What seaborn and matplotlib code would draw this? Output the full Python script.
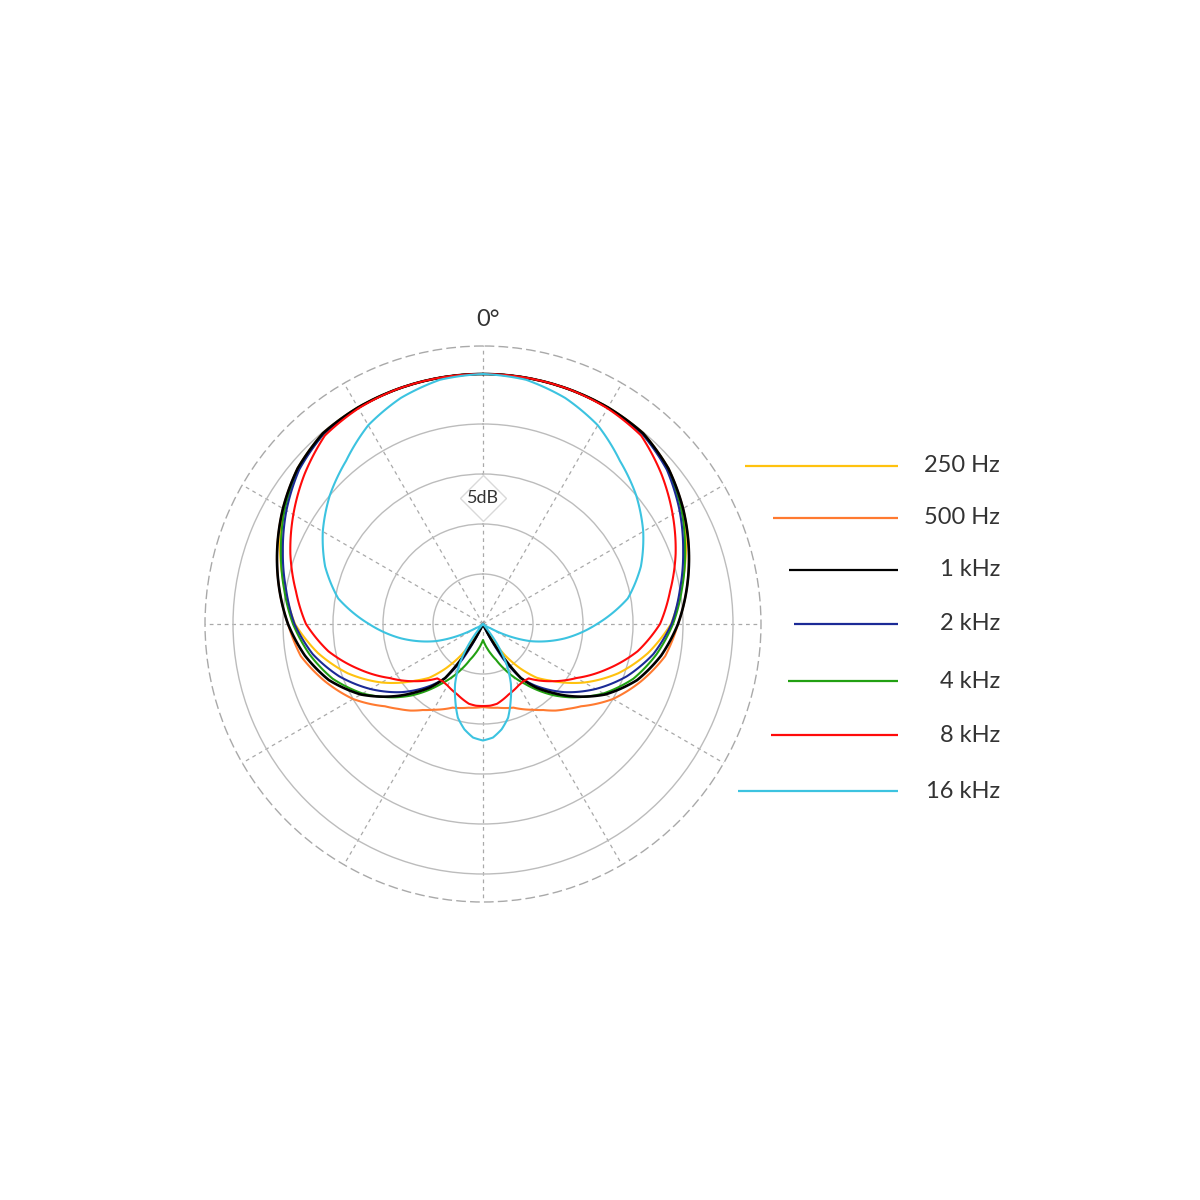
import numpy as np
import matplotlib
matplotlib.use("Agg")
import matplotlib.pyplot as plt
import seaborn as sns

# half of the pattern (0 = front, 180 = rear), mirrored for the other side
angles = [0, 10, 20, 30, 40, 50, 60, 70, 80, 90, 100, 110, 120, 130,
          135, 140, 145, 150, 155, 160, 165, 170, 175, 180]

# relative level in dB (-25 dB sits at the centre)
hz250 = [0, 0, 0, 0, -0.1, -0.8, -2.0, -3.4, -4.9, -6.2, -8.25, -10.6, -13.3, -16.2,
         -17.4, -19.2, -21.2, -24.0, -25, -25, -25, -25, -25, -25]
hz500 = [0, 0, 0, 0, -0.1, -0.8, -1.9, -3.1, -4.3, -5.5, -6.5, -8.2, -10.0, -12.2,
         -13.0, -13.7, -14.5, -15.1, -15.6, -16.1, -16.3, -16.5, -16.6, -16.7]
khz1 = [0, 0, 0, 0, -0.1, -0.8, -1.9, -3.1, -4.3, -5.5, -6.9, -8.6, -10.9, -13.8,
        -15.3, -16.7, -18.4, -22.2, -25, -25, -25, -25, -25, -25]
khz2 = [0, 0, 0, -0.05, -0.2, -1.0, -2.3, -3.7, -5.0, -6.15, -7.7, -9.7, -12.0, -14.4,
        -15.7, -17.0, -18.4, -21.0, -25, -25, -25, -25, -25, -25]
khz4 = [0, 0, 0, -0.05, -0.2, -0.9, -2.1, -3.5, -4.8, -6.0, -7.4, -9.0, -11.1, -13.6,
        -14.9, -16.3, -17.7, -18.9, -20.1, -21.2, -21.9, -22.5, -23.0, -23.4]
khz8 = [0, 0, 0, -0.1, -0.4, -1.7, -3.1, -4.5, -6.0, -7.3, -9.3, -11.8, -14.2, -16.1,
        -17.0, -17.9, -18.0, -17.9, -17.7, -17.5, -17.2, -16.9, -16.8, -16.8]
khz16 = [0, -0.2, -0.95, -2.05, -3.7, -5.0, -6.5, -8.2, -10.3, -13.6, -16.7, -20.0, -24.2, -25,
         -25, -25, -22.5, -20.2, -18.4, -16.9, -15.3, -14.3, -13.6, -13.35]

labels = ['250 Hz', '500 Hz', '1 kHz', '2 kHz', '4 kHz', '8 kHz', '16 kHz']
series = [hz250, hz500, khz1, khz2, khz4, khz8, khz16]
colors = ['#FFC20E', '#FF7A30', '#000000', '#1B2A96', '#22A012', '#FF0A0A', '#3CC3E0']
widths = [1.5, 1.5, 1.9, 1.5, 1.5, 1.5, 1.5]
draw_order = [1, 0, 4, 3, 2, 5, 6]

rings = [-20, -15, -10, -5, 0]
r_min, r_max = -25, 2.8

sns.set_theme(style='white')
plt.rcParams['font.family'] = ['Lato', 'DejaVu Sans']

W = H = 1200
fig = plt.figure(figsize=(12, 12), dpi=100, facecolor='white')

# polar area placed in pixels: centre (483, 624), outer radius 278
cx, cy, R = 483, 624, 278
ax = fig.add_axes([(cx - R) / W, 1 - (cy + R) / H, 2 * R / W, 2 * R / H],
                  projection='polar')
ax.set_theta_zero_location('N')
ax.set_theta_direction(-1)
ax.set_ylim(r_min, r_max)

ax.set_rgrids(rings, labels=[''] * len(rings))
ax.set_thetagrids(range(0, 360, 30), labels=[''] * 12)
ax.yaxis.grid(True, color='#bcbcbc', lw=1.0, ls='-')
ax.xaxis.grid(True, color='#a9a9a9', lw=0.9, ls=(0, (3, 3)))
ax.spines['polar'].set_color('#a9a9a9')
ax.spines['polar'].set_linewidth(1.0)
ax.spines['polar'].set_linestyle((0, (6, 4)))
ax.tick_params(pad=0, length=0)

full_ang = np.radians(angles + [360 - a for a in angles[-2::-1]])
for i in draw_order:
    vals = series[i] + series[i][-2::-1]
    sns.lineplot(x=full_ang, y=vals, ax=ax, sort=False, color=colors[i],
                 lw=widths[i], zorder=5 + draw_order.index(i))
# let the polar transform bend each segment instead of drawing chords
for ln in ax.lines:
    ln.get_path()._interpolation_steps = 12
    ln.set_solid_joinstyle('round')
ax.set_xlabel('')
ax.set_ylabel('')

# scale label in a diamond
ax.plot([0], [-12.4], marker='D', ms=23, mfc='white', mec='#d9d9d9', mew=1.0, zorder=3)
ax.text(0, -12.4, '5dB', ha='center', va='center', fontsize=13, color='#333333', zorder=4)
ax.text(np.radians(0.9), 5.45, '0°', ha='center', va='center', fontsize=17, color='#333333')

# legend drawn on a pixel overlay
ov = fig.add_axes([0, 0, 1, 1], facecolor='none')
ov.set_xlim(0, W)
ov.set_ylim(H, 0)
ov.axis('off')
legend_y = [466, 518, 570, 624, 681, 735, 791]
line_end, text_right, gap = 898, 1000, 33
for lab, col, y in zip(labels, colors, legend_y):
    x0 = cx + np.sqrt(R ** 2 - (y - cy) ** 2) + gap
    ov.plot([x0, line_end], [y, y], color=col, lw=1.6, solid_capstyle='butt')
    ov.text(text_right, y, lab, ha='right', va='center', fontsize=17, color='#333333')

fig.savefig('out.png', dpi=100, facecolor='white')
